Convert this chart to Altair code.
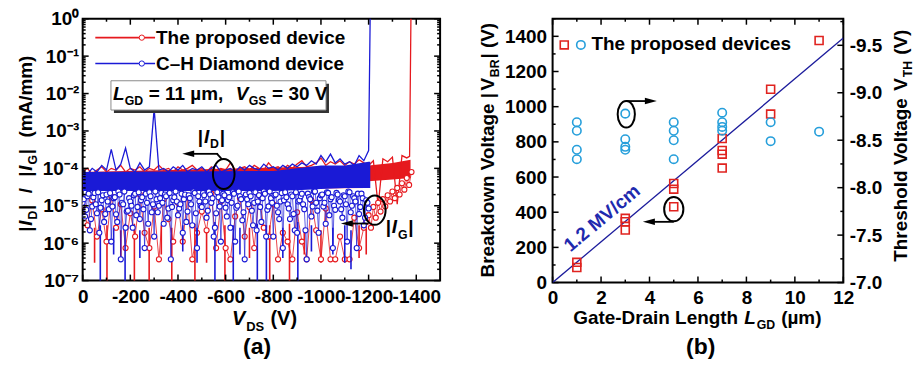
import altair as alt
import numpy as np
import pandas as pd

FONT = "Liberation Sans"
RED = "#e6191e"
BLUE = "#1a1ad6"
SQ_RED = "#e0231f"
CI_BLUE = "#269fdb"
FIT_BLUE = "#1c1c9c"
TXT_BLUE = "#1f2aae"

# ================= Panel (a): off-state |I_D|, |I_G| vs V_DS =================
# |I_D| traces, units of 1e-5 mA/mm, sampled every 20 V (last point: breakdown, off scale)
id_blue_vds = list(range(0, -1201, -20)) + [-1207]
id_blue = [9, 7, 10, 8, 12, 9, 32, 9, 13, 35,
           10, 8, 14, 9, 11, 390, 9, 10, 8, 11,
           9, 12, 8, 10, 9, 11, 8, 10, 12, 8,
           9, 10, 8, 11, 9, 12, 10, 9, 13, 10,
           11, 9, 12, 10, 13, 11, 14, 12, 16, 13,
           22, 15, 24, 14, 18, 13, 15, 12, 22, 16,
           30, 200000]
id_red_vds = list(range(0, -1361, -20)) + [-1372, -1378]
id_red = [8, 10, 7, 9, 11, 8, 10, 9, 12, 8,
          10, 9, 11, 8, 10, 9, 12, 9, 10, 8,
          11, 9, 10, 12, 9, 10, 8, 11, 9, 10,
          9, 14, 9, 10, 11, 9, 12, 10, 9, 14,
          10, 11, 9, 12, 10, 13, 16, 11, 12, 14,
          19, 12, 15, 13, 16, 12, 15, 13, 17, 14,
          12, 16, 1.0, 18, 15, 20, 1.1, 22, 19,
          21, 200000]
# envelope of the dense |I_D| noise band (1e-5 mA/mm)
band_blue_vds = [0, -800, -900, -1000, -1100, -1200, -1207]
band_blue_lo = [2.5, 2.5, 2.6, 2.8, 3.0, 3.0, 3.0]
band_blue_hi = [8, 8.5, 10, 12, 12, 15, 15]
band_red_vds = [0, -1190, -1200, -1300, -1376]
band_red_lo = [2.5, 3.0, 4.5, 5.0, 5.5]
band_red_hi = [8, 12, 12, 14, 17]
# |I_G| traces, units of 1e-6 mA/mm
ig_blue_vds = list(range(0, -1201, -10))
ig_blue = [12, 5.2, 18, 2.2, 9.6, 22, 6.3, 1.9, 14, 3.7,
           20, 8.1, 1.1, 16, 5.9, 24, 0.37, 11, 2.6, 7.4,
           13, 2.6, 21, 9.3, 4.4, 17, 0.74, 12, 23, 6.7,
           1.5, 15, 10, 22, 3.3, 18, 8.5, 0.37, 14, 24,
           5.6, 11, 1.9, 20, 7.0, 16, 3.0, 22, 0.74, 13,
           9.3, 19, 4.8, 24, 12, 1.5, 6.3, 17, 1.1, 21,
           8.9, 14, 2.6, 23, 1.1, 10, 18, 4.1, 0.37, 15,
           22, 7.4, 12, 2.2, 19, 3.7, 24, 1.5, 9.6, 16,
           1.5, 20, 6.7, 13, 0.74, 23, 11, 4.4, 18, 2.2,
           1.9, 14, 21, 8.1, 0.37, 17, 5.2, 24, 12, 1.9,
           19, 9.6, 3.3, 22, 15, 0.74, 7.8, 20, 13, 4.8,
           18, 1.1, 23, 10, 16, 0.74, 6.0, 21, 3.0, 14,
           8.5]
ig_blue_mid_vds = list(range(-5, -1196, -10))
ig_blue_mid = [15, 7.8, 21, 4.4, 17, 11, 23, 8.9, 19, 6.0,
               13, 22, 9.6, 17, 3.7, 20, 12, 24, 7.0, 16,
               10, 19, 5.6, 23, 14, 8.1, 21, 3.3, 18, 11,
               24, 6.7, 16, 12, 20, 4.8, 22, 9.3, 17, 13,
               8.5, 21, 15, 3.7, 19, 11, 24, 6.3, 18, 10,
               22, 13, 7.4, 20, 16, 2.6, 23, 9.6, 14, 19,
               5.2, 17, 12, 21, 8.9, 24, 15, 6.7, 20, 11,
               18, 3.0, 23, 13, 9.3, 16, 21, 7.8, 24, 12,
               19, 10, 4.4, 22, 14, 17, 8.5, 20, 6.0, 23,
               13, 18, 11, 2.2, 21, 15, 9.6, 24, 7.4, 16,
               20, 12, 23, 5.6, 17, 10, 22, 14, 8.1, 19,
               11, 24, 6.7, 18, 13, 21, 9.3, 16, 4.8, 12]
ig_red_vds = list(range(0, -1181, -20)) + list(range(-1190, -1381, -10))
ig_red = [10, 3.0, 14, 1.5, 8.1, 1.1, 18, 2.6, 11, 0.74,
          6.3, 1.5, 20, 1.9, 0.74, 9.6, 0.37, 15, 4.4, 1.1,
          12, 1.1, 17, 0.37, 1.9, 7.0, 2.2, 21, 0.74, 13,
          0.74, 0.37, 5.2, 16, 1.5, 9.3, 0.74, 19, 2.6, 1.5,
          11, 0.37, 1.9, 1.1, 0.37, 6.7, 1.1, 0.37, 14, 2.2,
          0.37, 8.5, 0.37, 0.37, 1.5, 0.37, 0.37, 4.8, 0.74, 2.6,
          3.7, 5.6, 2.6, 9.3, 4.8, 12, 7.0, 15, 9.6, 19,
          13, 24, 16, 30, 20, 40, 27, 55, 36, 80]
# |I_G| drops (zero-current readings): start level and end level, 1e-6 mA/mm (0.05 = below floor)
spk_blue_vds = [-74, -130, -178, -240, -420, -480, -555, -632, -660, -733, -771, -840, -903, -960, -1050, -1100, -1126]
spk_blue_top = [3.0, 2.6, 3.3, 2.2, 3.0, 2.6, 3.7, 3.0, 2.6, 3.3, 3.0, 2.6, 3.7, 3.0, 2.6, 3.0, 2.2]
spk_blue_bot = [0.05, 0.5, 0.05, 0.4, 0.6, 0.3, 0.05, 0.05, 0.5, 0.05, 0.05, 0.4, 0.05, 0.6, 0.5, 0.3, 0.2]
spk_red_vds = [-50, -102, -160, -217, -279, -330, -374, -471, -520, -597, -700, -785, -868, -930, -1000, -1160, -1190]
spk_red_top = [2.6, 3.0, 2.2, 3.3, 2.6, 3.0, 2.6, 3.3, 2.2, 3.0, 2.6, 3.0, 3.3, 2.6, 2.2, 3.0, 2.6]
spk_red_bot = [0.3, 0.05, 0.4, 0.05, 0.05, 0.5, 0.05, 0.05, 0.3, 0.05, 0.4, 0.05, 0.05, 0.5, 0.3, 0.4, 0.5]

# ================= Panel (b): V_BR and V_TH vs L_GD =================
lgd_sq = [1, 1, 3, 3, 3, 5, 5, 5, 7, 7, 7, 7, 9, 9, 11]
vbr = [115, 86, 365, 346, 299, 563, 531, 431, 819, 751, 730, 651, 1099, 958, 1376]
lgd_ci = [1, 1, 1, 1, 3, 3, 3, 3, 5, 5, 5, 5, 7, 7, 7, 7, 9, 9, 11]
vth = [-8.69, -8.60, -8.40, -8.30, -8.78, -8.51, -8.43, -8.40, -8.69, -8.60,
       -8.50, -8.30, -8.79, -8.69, -8.64, -8.60, -8.69, -8.49, -8.59]
fit_lgd = [0, 12]
fit_vbr = [0, 1390]

# ---------------------------------------------------------------------------
WA, HA = 359, 263
WB, HB = 292, 265
ONE = pd.DataFrame({"k": [0]})

CW = {" ": .278, "|": .280, "(": .333, ")": .333, "-": .333, "/": .278, "=": .584,
      ",": .278, ".": .278, "µ": .611, "–": .556,
      "A": .722, "B": .722, "C": .722, "D": .722, "E": .667, "G": .778, "H": .722,
      "I": .278, "L": .611, "M": .833, "R": .722, "S": .667, "T": .611, "V": .667,
      "a": .556, "b": .611, "c": .556, "d": .611, "e": .556, "g": .611, "h": .611,
      "i": .278, "k": .556, "l": .278, "m": .889, "n": .611, "o": .611, "p": .611,
      "r": .389, "s": .556, "t": .333, "v": .556, "w": .778, "y": .556}
for ch in "0123456789":
    CW[ch] = .556


def tw(s, size):
    return sum(CW.get(c, 0.6) for c in s) * size


def txt(text, x, y, size=19, angle=0, style="normal", color="black",
        align="left", baseline="alphabetic"):
    return alt.Chart(ONE).mark_text(
        text=text, font=FONT, fontSize=size, fontWeight="bold", fontStyle=style,
        color=color, align=align, baseline=baseline, angle=angle
    ).encode(x=alt.value(x), y=alt.value(y))


def rich(segs, x, y, size, angle=0, color="black", anchor="start", gap=0.8):
    SUB = 0.65
    sizes = [size * SUB if k == "s" else size for _, k in segs]
    total = sum(tw(t, fs) for (t, _), fs in zip(segs, sizes)) + gap * (len(segs) - 1)
    s = -total / 2 if anchor == "middle" else 0
    out = []
    for (t, k), fs in zip(segs, sizes):
        d = size * 0.28 if k == "s" else 0
        lead = tw(" " * (len(t) - len(t.lstrip(" "))), fs)
        pos = s + lead
        if angle == 0:
            px, py = x + pos, y + d
        else:
            px, py = x + d, y - pos
        out.append(txt(t.strip(), px, py, fs, angle, "italic" if k == "i" else "normal", color))
        s += tw(t, fs) + gap
    return out


def ellipse(cx, cy, w, h):
    r = w / h
    path = f"M {-r:.3f} 0 A {r:.3f} 1 0 1 1 {r:.3f} 0 A {r:.3f} 1 0 1 1 {-r:.3f} 0 Z"
    return alt.Chart(ONE).mark_point(shape=path, size=h * h, filled=False, stroke="black",
                                     strokeWidth=2, opacity=1).encode(x=alt.value(cx), y=alt.value(cy))


def arrow(x1, xtip, y):
    left = xtip < x1
    path = "M -1 0 L 1 -0.55 L 1 0.55 Z" if left else "M 1 0 L -1 -0.55 L -1 0.55 Z"
    c = xtip + 6 if left else xtip - 6
    line = alt.Chart(ONE).mark_rule(color="black", strokeWidth=1.8).encode(
        x=alt.value(x1), x2=alt.value(c), y=alt.value(y), y2=alt.value(y))
    head = alt.Chart(ONE).mark_point(shape=path, size=144, filled=True, color="black",
                                     opacity=1).encode(x=alt.value(c), y=alt.value(y))
    return [line, head]


def seg(x1, y1, x2, y2, color="black", w=1.8):
    return alt.Chart(ONE).mark_rule(color=color, strokeWidth=w).encode(
        x=alt.value(x1), x2=alt.value(x2), y=alt.value(y1), y2=alt.value(y2))


AX = dict(ticks=False, domain=False, grid=False, title=None, labelFont=FONT,
          labelFontSize=19, labelFontWeight="bold", labelColor="black",
          labelOverlap=False, labelFlush=False)

# ------------------------------ panel (a) ----------------------------------
xa = alt.Scale(domain=[0, -1500], nice=False, zero=False)
ya = alt.Scale(type="log", domain=[1e-7, 1], nice=False)
axis_xa = alt.Axis(values=list(range(0, -1401, -200)), labelExpr="'' + datum.value",
                   labelPadding=7, **AX)
axis_ya = alt.Axis(values=[10.0 ** e for e in range(-7, 1)],
                   labelExpr="['10⁰','10⁻¹','10⁻²','10⁻³','10⁻⁴','10⁻⁵','10⁻⁶','10⁻⁷'][round(-log(datum.value)/LN10)]",
                   labelPadding=4, **AX)

XA = alt.X("vds:Q", scale=xa, axis=axis_xa)

df_idb = pd.DataFrame({"vds": id_blue_vds, "i": np.array(id_blue) * 1e-5})
df_idr = pd.DataFrame({"vds": id_red_vds, "i": np.array(id_red) * 1e-5})
df_bb = pd.DataFrame({"vds": band_blue_vds, "lo": np.array(band_blue_lo) * 1e-5,
                      "hi": np.array(band_blue_hi) * 1e-5})
df_br = pd.DataFrame({"vds": band_red_vds, "lo": np.array(band_red_lo) * 1e-5,
                      "hi": np.array(band_red_hi) * 1e-5})
df_igb = pd.concat([pd.DataFrame({"vds": ig_blue_vds, "i": np.array(ig_blue) * 1e-6}),
                    pd.DataFrame({"vds": ig_blue_mid_vds, "i": np.array(ig_blue_mid) * 1e-6})]
                   ).sort_values("vds", ascending=False).reset_index(drop=True)
df_igr = pd.DataFrame({"vds": ig_red_vds, "i": np.array(ig_red) * 1e-6})
df_spb = pd.DataFrame({"vds": spk_blue_vds, "lo": np.array(spk_blue_bot) * 1e-6,
                       "hi": np.array(spk_blue_top) * 1e-6})
df_spr = pd.DataFrame({"vds": spk_red_vds, "lo": np.array(spk_red_bot) * 1e-6,
                       "hi": np.array(spk_red_top) * 1e-6})


def band(df, color):
    return alt.Chart(df).mark_area(color=color, opacity=1, clip=True).encode(
        x=XA, y=alt.Y("lo:Q", scale=ya, axis=axis_ya), y2="hi:Q")


def trace(df, color, w=1.3):
    return alt.Chart(df).mark_line(color=color, strokeWidth=w, clip=True).encode(
        x=XA, y=alt.Y("i:Q", scale=ya, axis=axis_ya))


def dots(df, color, size=26):
    return alt.Chart(df).mark_point(shape="circle", filled=True, fill="white", stroke=color,
                                    strokeWidth=1.1, size=size, opacity=1, clip=True).encode(
        x=XA, y=alt.Y("i:Q", scale=ya, axis=axis_ya))


def drops(df, color):
    return alt.Chart(df).mark_rule(color=color, strokeWidth=1.6, clip=True).encode(
        x=XA, y=alt.Y("lo:Q", scale=ya, axis=axis_ya), y2="hi:Q")


def xticks(vals, scale, axis, W, H, L):
    d = pd.DataFrame({"v": vals})
    X = alt.X("v:Q", scale=scale, axis=axis)
    return [alt.Chart(d).mark_rule(color="black", strokeWidth=1.5).encode(x=X, y=alt.value(H - L), y2=alt.value(H)),
            alt.Chart(d).mark_rule(color="black", strokeWidth=1.5).encode(x=X, y=alt.value(0), y2=alt.value(L))]


def yticks(vals, scale, axis, W, L, sides=("l", "r")):
    d = pd.DataFrame({"v": vals})
    Y = alt.Y("v:Q", scale=scale, axis=axis)
    out = []
    if "l" in sides:
        out.append(alt.Chart(d).mark_rule(color="black", strokeWidth=1.5).encode(y=Y, x=alt.value(0), x2=alt.value(L)))
    if "r" in sides:
        out.append(alt.Chart(d).mark_rule(color="black", strokeWidth=1.5).encode(y=Y, x=alt.value(W - L), x2=alt.value(W)))
    return out


layers_a = [band(df_br, RED), trace(df_idr, RED), drops(df_spr, RED), trace(df_igr, RED, 0.8), dots(df_igr, RED),
            band(df_bb, BLUE), trace(df_idb, BLUE), drops(df_spb, BLUE), trace(df_igb, BLUE, 0.7), dots(df_igb, BLUE)]
layers_a += xticks(list(range(0, -1401, -200)), xa, axis_xa, WA, HA, 6)
layers_a += xticks(list(range(-100, -1401, -200)), xa, axis_xa, WA, HA, 3)
layers_a += yticks([10.0 ** e for e in range(-7, 1)], ya, axis_ya, WA, 6)
layers_a += yticks([k * 10.0 ** e for e in range(-7, 0) for k in range(2, 10)], ya, axis_ya, WA, 3)

# legend (a)
for yy, col, label in [(19, RED, "The proposed device"), (45, BLUE, "C–H Diamond device")]:
    layers_a.append(seg(12.7, yy, 72.7, yy, col, 1.6))
    layers_a.append(alt.Chart(ONE).mark_point(shape="circle", filled=True, fill="white", stroke=col,
                                              strokeWidth=1, size=28, opacity=1).encode(
        x=alt.value(59.4), y=alt.value(yy)))
    layers_a.append(txt(label, 73.7, yy + 6.7, 19))

# condition box
layers_a.append(alt.Chart(ONE).mark_rect(color="#333333").encode(
    x=alt.value(31.4), x2=alt.value(247.4), y=alt.value(65.3), y2=alt.value(94.7)))
layers_a.append(alt.Chart(ONE).mark_rect(fill="white", stroke="#8a8a8a", strokeWidth=1).encode(
    x=alt.value(28.4), x2=alt.value(244.4), y=alt.value(62.3), y2=alt.value(91.7)))
layers_a += rich([("L", "i"), ("GD", "s"), (" = 11 µm,", "n"), ("  V", "i"), ("GS", "s"), (" = 30 V", "n")],
                 30.4, 81.3, 19, gap=0.3)

# annotations (a)
layers_a.append(ellipse(141.7, 156, 21.7, 30))
layers_a.append(seg(135, 135.7, 140, 141.2))
layers_a += arrow(136, 100, 135.7)
layers_a += rich([("|", "n"), ("I", "i"), ("D", "s"), ("|", "n")], 115.7, 125, 19)
layers_a.append(ellipse(293.4, 192.3, 21.7, 29.3))
layers_a += arrow(287, 259.4, 205.7)
layers_a += rich([("|", "n"), ("I", "i"), ("G", "s"), ("|", "n")], 304.4, 215.7, 19)

# titles (a)
layers_a += rich([("|", "n"), ("I", "i"), ("D", "s"), ("|", "n"), ("  /  ", "n"), ("|", "n"), ("I", "i"),
                  ("G", "s"), ("|", "n"), ("  (mA/mm)", "n")], -51, 125.5, 19, angle=270, anchor="middle")
layers_a += rich([("V", "i"), ("DS", "s"), (" (V)", "n")], 182.7, 308, 20, anchor="middle")
layers_a.append(txt("(a)", 175.2, 337, 23, align="center"))

panel_a = alt.layer(*layers_a).properties(width=WA, height=HA)

# ------------------------------ panel (b) ----------------------------------
xb = alt.Scale(domain=[0, 12], nice=False, zero=False)
ybl = alt.Scale(domain=[0, 1500], nice=False, zero=False)
ybr = alt.Scale(domain=[-7.0, -9.78], nice=False, zero=False)
axis_xb = alt.Axis(values=list(range(0, 13, 2)), labelPadding=6, **AX)
axis_ybl = alt.Axis(values=list(range(0, 1401, 200)), orient="left", labelPadding=6, format="d", **AX)
axis_ybr = alt.Axis(values=[-7.0, -7.5, -8.0, -8.5, -9.0, -9.5], orient="right", labelPadding=6,
                    labelExpr="replace(format(datum.value, '.1f'), '\u2212', '-')", **AX)

df_sq = pd.DataFrame({"lgd": lgd_sq, "vbr": vbr})
df_ci = pd.DataFrame({"lgd": lgd_ci, "vth": vth})
df_fit = pd.DataFrame({"lgd": fit_lgd, "vbr": fit_vbr})
XB = alt.X("lgd:Q", scale=xb, axis=axis_xb)

layers_b = []
layers_b += xticks(list(range(0, 13, 2)), xb, axis_xb, WB, HB, 6)
layers_b += xticks(list(range(1, 12, 2)), xb, axis_xb, WB, HB, 3)
layers_b += yticks(list(range(0, 1401, 200)), ybl, None, WB, 6, ("l",))
layers_b += yticks(list(range(100, 1501, 200)), ybl, None, WB, 3, ("l",))
layers_b += yticks([-7.0, -7.5, -8.0, -8.5, -9.0, -9.5], ybr, None, WB, 6, ("r",))
layers_b += yticks([-7.25, -7.75, -8.25, -8.75, -9.25, -9.75], ybr, None, WB, 3, ("r",))
layers_b.append(alt.Chart(df_fit).mark_line(color=FIT_BLUE, strokeWidth=1.3, clip=True).encode(
    x=XB, y=alt.Y("vbr:Q", scale=ybl, axis=None)))
layers_b.append(alt.Chart(df_sq).mark_point(shape="square", filled=False, color=SQ_RED, size=64,
                                            strokeWidth=1.6, opacity=1).encode(
    x=XB, y=alt.Y("vbr:Q", scale=ybl, axis=axis_ybl)))
layers_b.append(alt.Chart(df_ci).mark_point(shape="circle", filled=False, color=CI_BLUE, size=72,
                                            strokeWidth=1.6, opacity=1).encode(
    x=XB, y=alt.Y("vth:Q", scale=ybr, axis=axis_ybr)))

# legend (b)
layers_b.append(alt.Chart(ONE).mark_point(shape="square", filled=False, color=SQ_RED, size=64,
                                          strokeWidth=1.6, opacity=1).encode(x=alt.value(11.7), y=alt.value(26.3)))
layers_b.append(alt.Chart(ONE).mark_point(shape="circle", filled=False, color=CI_BLUE, size=72,
                                          strokeWidth=1.6, opacity=1).encode(x=alt.value(28.4), y=alt.value(26.3)))
layers_b.append(txt("The proposed devices", 39, 31.3, 19))

# annotations (b)
layers_b.append(ellipse(74, 96, 17.3, 26.7))
layers_b += arrow(74, 104.7, 82.7)
layers_b.append(ellipse(121.7, 191.3, 19.3, 24.3))
layers_b += arrow(121.7, 90.7, 204)
layers_b.append(txt("1.2 MV/cm", 49.7, 200.3, 19, angle=320, color=TXT_BLUE, align="center",
                    baseline="middle"))

# titles (b)
layers_b += rich([("Breakdown Voltage |", "n"), ("V", "n"), ("BR", "s"), ("| (V)", "n")],
                 -59.3, 132, 19, angle=270, anchor="middle")
layers_b += rich([("Threshold Voltage ", "n"), ("V", "n"), ("TH", "s"), (" (V)", "n")],
                 356, 127.5, 19, angle=270, anchor="middle")
layers_b += rich([("Gate-Drain Length ", "n"), ("L", "i"), ("GD", "s"), (" (µm)", "n")],
                 145.7, 306.3, 19, anchor="middle")
layers_b.append(txt("(b)", 148.7, 337, 23, align="center"))

panel_b = alt.layer(*layers_b).resolve_scale(y="independent").properties(width=WB, height=HB)

chart = alt.hconcat(panel_a, panel_b, spacing=113, bounds="flush").properties(
    padding={"left": 8, "top": 0, "right": 0, "bottom": 0}
).configure_view(stroke="black", strokeWidth=2)

chart.save("out.html", embed_options={"renderer": "svg", "actions": False})
